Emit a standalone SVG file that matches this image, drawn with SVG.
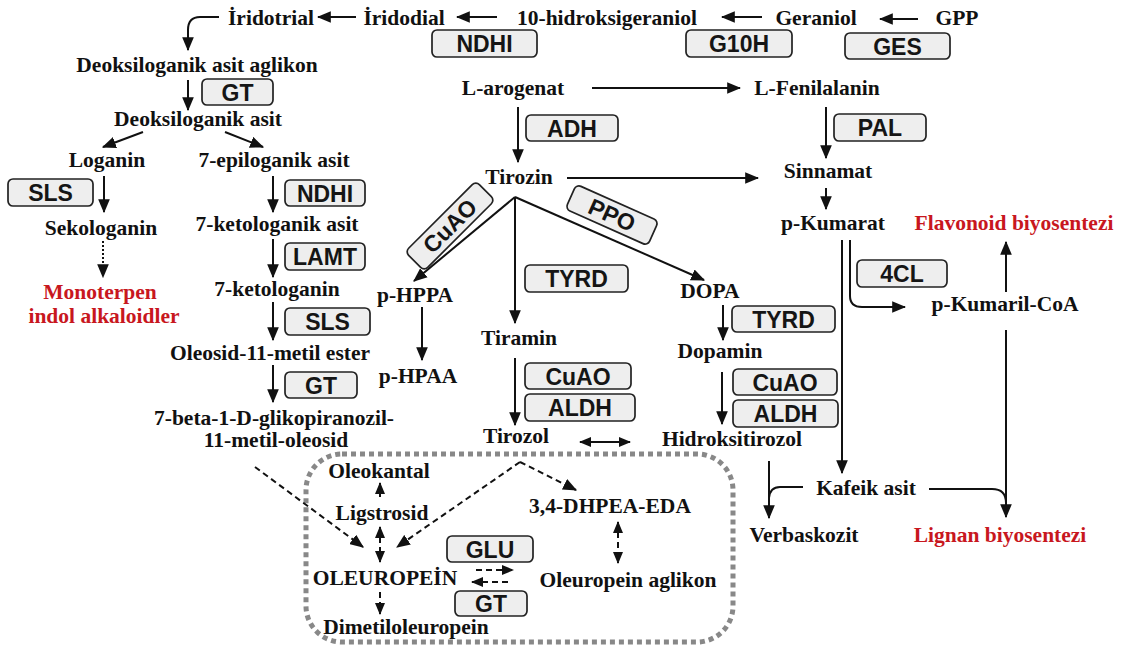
<svg xmlns="http://www.w3.org/2000/svg" width="1121" height="653" viewBox="0 0 1121 653">
<defs>
<style>
.t{font-family:"Liberation Serif","Times New Roman",serif;font-weight:bold;font-size:21.5px;fill:#111;text-anchor:middle}
.r{fill:#c8171e}
.e{font-family:"Liberation Sans",Arial,sans-serif;font-weight:bold;font-size:23px;fill:#151515;text-anchor:middle}
.b{fill:#eeeeee;stroke:#222;stroke-width:1.7}
.l{fill:none;stroke:#111;stroke-width:2}
.d{fill:none;stroke:#111;stroke-width:2;stroke-dasharray:6 4}
.dt{fill:none;stroke:#111;stroke-width:2;stroke-dasharray:2 2}
.a{marker-end:url(#ah)}
.s{marker-end:url(#ah2)}
.ds{marker-start:url(#ah2);marker-end:url(#ah2)}
</style>
<marker id="ah" viewBox="0 0 12 10" refX="11" refY="5" markerWidth="14" markerHeight="12" orient="auto-start-reverse" markerUnits="userSpaceOnUse"><path d="M0,0 L12,5 L0,10 z" fill="#111"/></marker>
<marker id="ah2" viewBox="0 0 12 10" refX="11" refY="5" markerWidth="12" markerHeight="11" orient="auto-start-reverse" markerUnits="userSpaceOnUse"><path d="M0,0 L12,5 L0,10 z" fill="#111"/></marker>
</defs>
<rect width="1121" height="653" fill="#fff"/>

<g id="connectors">
<path class="l a" d="M356,17 H318"/>
<path class="l a" d="M219,17 H200 Q188,17 188,30 V50"/>
<path class="l a" d="M497,17 H457"/>
<path class="l a" d="M762,17 H722"/>
<path class="l a" d="M918,19 H880"/>
<path class="l a" d="M188,80 V110"/>
<path class="l a" d="M143,132 L103,147"/>
<path class="l a" d="M225,132 L263,147"/>
<path class="l a" d="M104,176 V212"/>
<path class="dt a" d="M103,241 V277"/>
<path class="l a" d="M273,176 V212"/>
<path class="l a" d="M273,239 V277"/>
<path class="l a" d="M273,302 V340"/>
<path class="l a" d="M273,365 V402"/>
<path class="l a" d="M592,88 H740"/>
<path class="l a" d="M518,107 V162"/>
<path class="l a" d="M826,107 V158"/>
<path class="l a" d="M567,178 H758"/>
<path class="l a" d="M826,188 V209"/>
<path class="l a" d="M515,197 L414,281"/>
<path class="l a" d="M515,197 V323"/>
<path class="l a" d="M515,197 L704,280"/>
<path class="l a" d="M422,307 V360"/>
<path class="l a" d="M515,358 V425"/>
<path class="l ds" d="M580,442 H630"/>
<path class="l a" d="M723,305 V340"/>
<path class="l a" d="M722,372 V424"/>
<path class="l a" d="M842,240 V473"/>
<path class="l a" d="M850,240 V296 Q850,307 862,307 H905"/>
<path class="l a" d="M1006,292 V242"/>
<path class="l a" d="M1006,330 V517"/>
<path class="l" d="M929,489 H992 Q1006,489 1006,503"/>
<path class="l a" d="M769,461 V518"/>
<path class="l" d="M803,487 H780 Q770,487 769,498"/>
<rect x="306" y="454" width="427" height="188" rx="36" fill="none" stroke="#888" stroke-width="5" stroke-dasharray="5 4"/>
<path class="d a" d="M255,467 L363,547"/>
<path class="d a" d="M520,462 L397,547"/>
<path class="d a" d="M520,462 L576,490"/>
<path class="l s" d="M380,497 V483"/>
<path class="d ds" d="M380,527 V562"/>
<path class="d s" d="M380,592 V614"/>
<path class="d ds" d="M618,522 V563"/>
<path class="d s" d="M476,570 H513"/>
<path class="d s" d="M508,582 H472"/>
</g>

<g id="n-iridotrial"><text class="t" x="271" y="25">İridotrial</text></g>
<g id="n-iridodial"><text class="t" x="404" y="25">İridodial</text></g>
<g id="n-10hg"><text class="t" x="607" y="25">10-hidroksigeraniol</text></g>
<g id="n-geraniol"><text class="t" x="816" y="25">Geraniol</text></g>
<g id="n-gpp"><text class="t" x="957" y="25">GPP</text></g>
<g id="e-ndhi1"><rect class="b" x="432" y="30" width="105" height="27" rx="5"/><text class="e" x="484.5" y="52">NDHI</text></g>
<g id="e-g10h"><rect class="b" x="686" y="30" width="106" height="27" rx="5"/><text class="e" x="739" y="52">G10H</text></g>
<g id="e-ges"><rect class="b" x="845" y="33" width="105" height="26" rx="5"/><text class="e" x="897.5" y="54.5">GES</text></g>

<g id="n-dag"><text class="t" x="197" y="72">Deoksiloganik asit aglikon</text></g>
<g id="e-gt1"><rect class="b" x="202" y="79" width="71" height="26" rx="5"/><text class="e" x="237.5" y="100.5">GT</text></g>
<g id="n-da"><text class="t" x="198" y="126">Deoksiloganik asit</text></g>
<g id="n-loganin"><text class="t" x="107" y="167">Loganin</text></g>
<g id="n-7epi"><text class="t" x="274" y="167">7-epiloganik asit</text></g>
<g id="e-sls1"><rect class="b" x="8" y="179" width="85" height="27" rx="5"/><text class="e" x="50.5" y="201">SLS</text></g>
<g id="e-ndhi2"><rect class="b" x="285" y="180" width="80" height="26" rx="5"/><text class="e" x="325" y="201.5">NDHI</text></g>
<g id="n-sekologanin"><text class="t" x="101" y="235">Sekologanin</text></g>
<g id="n-mia"><text class="t r" x="100" y="299">Monoterpen</text><text class="t r" x="104" y="323">indol alkaloidler</text></g>
<g id="n-7ketoa"><text class="t" x="277" y="231">7-ketologanik asit</text></g>
<g id="e-lamt"><rect class="b" x="285" y="243" width="80" height="27" rx="5"/><text class="e" x="325" y="264.5">LAMT</text></g>
<g id="n-7keto"><text class="t" x="277" y="296">7-ketologanin</text></g>
<g id="e-sls2"><rect class="b" x="285" y="308" width="85" height="27" rx="5"/><text class="e" x="327.5" y="329.5">SLS</text></g>
<g id="n-oleosid"><text class="t" x="270" y="360">Oleosid-11-metil ester</text></g>
<g id="e-gt2"><rect class="b" x="285" y="372" width="72" height="26" rx="5"/><text class="e" x="321" y="393.5">GT</text></g>
<g id="n-7beta"><text class="t" x="274" y="425">7-beta-1-D-glikopiranozil-</text><text class="t" x="276" y="447">11-metil-oleosid</text></g>

<g id="n-larogenat"><text class="t" x="513" y="95">L-arogenat</text></g>
<g id="n-lfen"><text class="t" x="817" y="95">L-Fenilalanin</text></g>
<g id="e-adh"><rect class="b" x="526" y="115" width="92" height="26" rx="5"/><text class="e" x="572" y="136.5">ADH</text></g>
<g id="e-pal"><rect class="b" x="834" y="114" width="92" height="27" rx="5"/><text class="e" x="880" y="135.5">PAL</text></g>
<g id="n-tirozin"><text class="t" x="519" y="184">Tirozin</text></g>
<g id="n-sinnamat"><text class="t" x="828" y="178">Sinnamat</text></g>
<g id="n-pkumarat"><text class="t" x="833" y="230">p-Kumarat</text></g>
<g id="n-flavonoid"><text class="t r" x="1014" y="230">Flavonoid biyosentezi</text></g>
<g id="e-cuao1" transform="translate(450,226) rotate(-45)"><rect class="b" x="-50" y="-13.5" width="100" height="27" rx="5"/><text class="e" x="0" y="8">CuAO</text></g>
<g id="e-ppo" transform="translate(612,215) rotate(24)"><rect class="b" x="-45" y="-13.5" width="90" height="27" rx="5"/><text class="e" x="0" y="8">PPO</text></g>
<g id="e-tyrd1"><rect class="b" x="525" y="265" width="103" height="27" rx="5"/><text class="e" x="576.5" y="286.5">TYRD</text></g>
<g id="n-phppa"><text class="t" x="415" y="302">p-HPPA</text></g>
<g id="n-phpaa"><text class="t" x="418" y="383">p-HPAA</text></g>
<g id="n-tiramin"><text class="t" x="519" y="345">Tiramin</text></g>
<g id="e-cuao2"><rect class="b" x="525" y="363" width="106" height="26" rx="5"/><text class="e" x="578" y="384.5">CuAO</text></g>
<g id="e-aldh1"><rect class="b" x="525" y="394" width="110" height="27" rx="5"/><text class="e" x="580" y="415.5">ALDH</text></g>
<g id="n-tirozol"><text class="t" x="516" y="443">Tirozol</text></g>
<g id="n-dopa"><text class="t" x="710" y="298">DOPA</text></g>
<g id="e-tyrd2"><rect class="b" x="732" y="306" width="103" height="26" rx="5"/><text class="e" x="783.5" y="327.5">TYRD</text></g>
<g id="n-dopamin"><text class="t" x="720" y="358">Dopamin</text></g>
<g id="e-cuao3"><rect class="b" x="733" y="369" width="104" height="26" rx="5"/><text class="e" x="785" y="390.5">CuAO</text></g>
<g id="e-aldh2"><rect class="b" x="733" y="400" width="105" height="27" rx="5"/><text class="e" x="785.5" y="421.5">ALDH</text></g>
<g id="n-hidroksitirozol"><text class="t" x="732" y="446">Hidroksitirozol</text></g>

<g id="e-4cl"><rect class="b" x="857" y="260" width="90" height="27" rx="5"/><text class="e" x="902" y="281.5">4CL</text></g>
<g id="n-pkcoa"><text class="t" x="1005" y="311">p-Kumaril-CoA</text></g>
<g id="n-kafeik"><text class="t" x="866" y="495">Kafeik asit</text></g>
<g id="n-verbaskozit"><text class="t" x="804" y="542">Verbaskozit</text></g>
<g id="n-lignan"><text class="t r" x="1000" y="542">Lignan biyosentezi</text></g>

<g id="n-oleokantal"><text class="t" x="379" y="478">Oleokantal</text></g>
<g id="n-ligstrosid"><text class="t" x="382" y="520">Ligstrosid</text></g>
<g id="n-oleuropein"><text class="t" x="385" y="585">OLEUROPEİN</text></g>
<g id="n-dimetil"><text class="t" x="406" y="634">Dimetiloleuropein</text></g>
<g id="n-dhpea"><text class="t" x="610" y="513">3,4-DHPEA-EDA</text></g>
<g id="n-aglikon"><text class="t" x="628" y="587">Oleuropein aglikon</text></g>
<g id="e-glu"><rect class="b" x="447" y="536" width="86" height="26" rx="5"/><text class="e" x="490" y="557.5">GLU</text></g>
<g id="e-gt3"><rect class="b" x="455" y="591" width="72" height="25" rx="5"/><text class="e" x="491" y="612">GT</text></g>
</svg>
